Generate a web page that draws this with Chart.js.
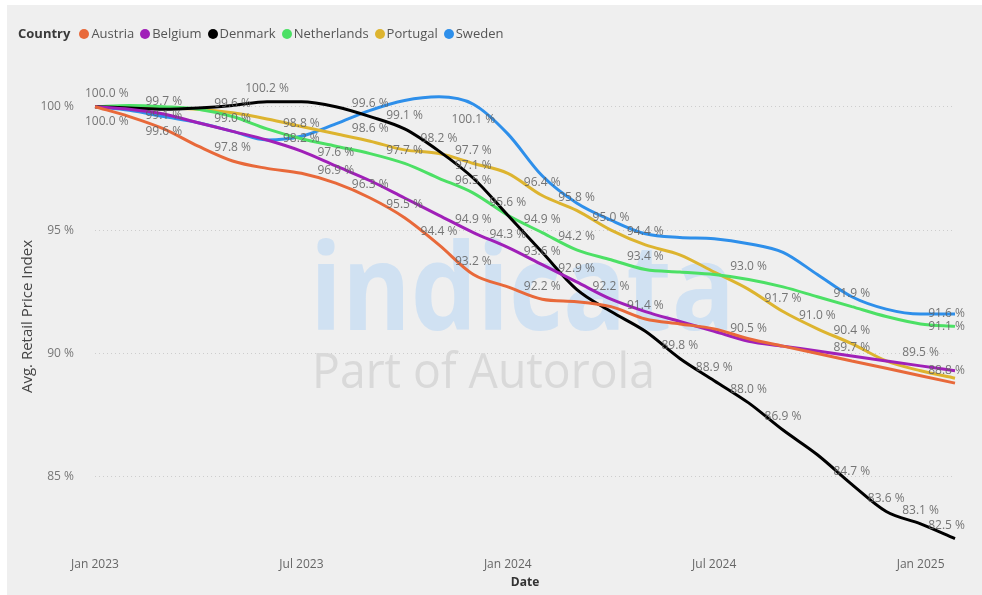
<!DOCTYPE html>
<html>
<head>
<meta charset="utf-8">
<script src="https://cdn.jsdelivr.net/npm/chart.js@4.4.1/dist/chart.umd.min.js"></script>
<style>
  html, body { margin: 0; padding: 0; background: #ffffff; }
  #panel { position: absolute; left: 7px; top: 5px; width: 975px; height: 590px; background: #efefef; }
  #chart { position: absolute; left: 0; top: 0; }
  #legend { position: absolute; left: 11px; top: 19px; font-family: "Open Sans", sans-serif; font-size: 13px; color: #555; white-space: nowrap; }
  #legend .title { font-weight: bold; color: #3a3a3a; margin-right: 9px; }
  #legend .item { margin-right: 6px; }
  #legend .dot { display: inline-block; width: 10px; height: 10px; border-radius: 50%; margin-right: 2px; vertical-align: -1px; }
</style>
</head>
<body>
<div id="panel">
  <canvas id="chart" width="975" height="590"></canvas>
  <div id="legend"></div>
</div>
<script>
// Months on the x axis
const months = ['Jan 2023', 'Feb 2023', 'Mar 2023', 'Apr 2023', 'May 2023', 'Jun 2023',
  'Jul 2023', 'Aug 2023', 'Sep 2023', 'Oct 2023', 'Nov 2023', 'Dec 2023',
  'Jan 2024', 'Feb 2024', 'Mar 2024', 'Apr 2024', 'May 2024', 'Jun 2024',
  'Jul 2024', 'Aug 2024', 'Sep 2024', 'Oct 2024', 'Nov 2024', 'Dec 2024',
  'Jan 2025', 'Feb 2025'];

// Avg. retail price index per country (%)
const austria = [100.0, 99.6, 99.1, 98.4, 97.8, 97.5, 97.3, 96.9, 96.3, 95.5, 94.4, 93.2, 92.7, 92.2, 92.1, 91.9, 91.4, 91.2, 91.0, 90.6, 90.3, 90.0, 89.7, 89.4, 89.1, 88.8];
const belgium = [100.0, 99.9, 99.7, 99.35, 99.0, 98.65, 98.2, 97.6, 97.0, 96.3, 95.6, 94.9, 94.3, 93.6, 92.9, 92.2, 91.7, 91.3, 90.9, 90.5, 90.3, 90.1, 89.9, 89.7, 89.5, 89.3];
const denmark = [100.0, 99.95, 99.9, 99.95, 100.05, 100.2, 100.2, 100.0, 99.6, 99.1, 98.2, 97.1, 95.6, 94.1, 92.6, 91.7, 90.9, 89.8, 88.9, 88.0, 86.9, 85.9, 84.7, 83.6, 83.1, 82.5];
const netherlands = [100.0, 100.05, 100.0, 99.9, 99.6, 99.1, 98.7, 98.4, 98.1, 97.7, 97.1, 96.5, 95.6, 94.9, 94.2, 93.8, 93.4, 93.3, 93.2, 93.0, 92.7, 92.3, 91.9, 91.5, 91.2, 91.1];
const portugal = [100.0, 100.0, 99.95, 99.9, 99.75, 99.5, 99.2, 98.9, 98.6, 98.25, 98.1, 97.7, 97.3, 96.4, 95.8, 95.0, 94.4, 94.0, 93.3, 92.6, 91.7, 91.0, 90.4, 89.7, 89.3, 89.0];
const sweden = [100.0, 99.85, 99.6, 99.35, 99.0, 98.65, 98.8, 99.3, 99.85, 100.25, 100.4, 100.1, 98.9, 97.2, 96.1, 95.4, 94.85, 94.7, 94.65, 94.45, 94.1, 93.2, 92.3, 91.8, 91.6, 91.6];

const yTicks = [85, 90, 95, 100];

const series = [
  { name: 'Austria', data: austria, color: '#E8693A' },
  { name: 'Belgium', data: belgium, color: '#A020B8' },
  { name: 'Denmark', data: denmark, color: '#000000' },
  { name: 'Netherlands', data: netherlands, color: '#4CE065' },
  { name: 'Portugal', data: portugal, color: '#DDB42F' },
  { name: 'Sweden', data: sweden, color: '#2E8FEA' }
];

// which points carry a value label, and on which side of the line
const labelPoints = {
  Austria: [[0, 'below'], [2, 'above'], [4, 'above'], [7, 'above'], [8, 'above'], [9, 'above'], [10, 'above'], [11, 'above'], [13, 'above'], [16, 'above'], [22, 'above'], [25, 'above']],
  Belgium: [[2, 'above'], [4, 'above'], [6, 'above'], [7, 'above'], [11, 'above'], [12, 'above'], [13, 'above'], [14, 'above'], [15, 'above'], [19, 'above'], [24, 'above']],
  Denmark: [[0, 'above'], [5, 'above'], [8, 'above'], [9, 'above'], [10, 'above'], [11, 'above'], [12, 'above'], [17, 'above'], [18, 'above'], [19, 'above'], [20, 'above'], [22, 'above'], [23, 'above'], [24, 'above'], [25, 'above']],
  Netherlands: [[4, 'above'], [9, 'above'], [11, 'above'], [13, 'above'], [14, 'above'], [16, 'above'], [19, 'above'], [22, 'above'], [25, 'center']],
  Portugal: [[8, 'above'], [11, 'above'], [13, 'above'], [14, 'above'], [15, 'above'], [16, 'above'], [20, 'above'], [21, 'above'], [22, 'above']],
  Sweden: [[2, 'below'], [6, 'above'], [11, 'below'], [25, 'center']]
};

// Faint logo behind the lines
const watermark = {
  id: 'watermark',
  beforeDatasetsDraw(chart) {
    const ctx = chart.ctx;
    ctx.save();
    ctx.textBaseline = 'alphabetic';
    ctx.textAlign = 'left';
    ctx.font = 'bold 120px "Open Sans"';
    ctx.fillStyle = '#d0e1f2';
    let w = ctx.measureText('indicata').width;
    ctx.translate(303, 325);
    ctx.scale(425 / w, 1);
    ctx.fillText('indicata', 0, 0);
    ctx.restore();

    ctx.save();
    ctx.font = '50px "Open Sans"';
    ctx.fillStyle = '#d9d9d9';
    w = ctx.measureText('Part of Autorola').width;
    ctx.translate(305, 383);
    ctx.scale(343 / w, 1);
    ctx.fillText('Part of Autorola', 0, 0);
    ctx.restore();
  }
};

// Value labels next to selected points
const valueLabels = {
  id: 'valueLabels',
  afterDatasetsDraw(chart) {
    const ctx = chart.ctx;
    const area = chart.chartArea;
    ctx.save();
    ctx.font = '12px "Open Sans"';
    ctx.fillStyle = 'rgba(95,95,95,0.85)';
    ctx.textAlign = 'center';
    ctx.textBaseline = 'middle';
    chart.data.datasets.forEach((ds, di) => {
      const meta = chart.getDatasetMeta(di);
      (labelPoints[ds.label] || []).forEach(([i, pos]) => {
        const pt = meta.data[i];
        const text = ds.data[i].toFixed(1) + ' %';
        const half = ctx.measureText(text).width / 2;
        const dy = pos === 'above' ? -13 : (pos === 'below' ? 15 : 0);
        let x = pt.x;
        x = Math.max(x, area.left - 10 + half);
        x = Math.min(x, area.right + 10 - half);
        ctx.fillText(text, x, pt.y + dy);
      });
    });
    ctx.restore();
  }
};

// legend built from the series
const legend = document.getElementById('legend');
legend.innerHTML = '<span class="title">Country</span>' + series.map(s =>
  '<span class="item"><span class="dot" style="background:' + s.color + '"></span>' + s.name + '</span>').join('');

const ctx = document.getElementById('chart').getContext('2d');
new Chart(ctx, {
  type: 'line',
  data: {
    labels: months,
    datasets: series.map(s => ({
      label: s.name,
      data: s.data,
      borderColor: s.color,
      backgroundColor: s.color,
      borderWidth: 3,
      pointRadius: 0,
      cubicInterpolationMode: 'monotone',
      fill: false
    }))
  },
  options: {
    responsive: false,
    animation: false,
    layout: { padding: { left: 0, top: 77, right: 27, bottom: 0 } },
    plugins: {
      legend: { display: false },
      tooltip: { enabled: false }
    },
    scales: {
      x: {
        type: 'category',
        offset: false,
        grid: { display: false, drawTicks: false },
        border: { display: false },
        ticks: {
          autoSkip: false,
          maxRotation: 0,
          padding: 6,
          color: '#666',
          font: { family: 'Open Sans', size: 12 },
          callback: function (val) {
            const l = this.getLabelForValue(val);
            return (l.startsWith('Jan') || l.startsWith('Jul')) ? l : '';
          }
        },
        title: {
          display: true,
          text: 'Date',
          color: '#333',
          font: { family: 'Open Sans', size: 12, weight: 'bold' },
          padding: { top: 0, bottom: 5 }
        },
        afterFit: s => { s.height = 44; }
      },
      y: {
        min: 82,
        max: 101,
        afterBuildTicks: s => { s.ticks = yTicks.map(v => ({ value: v })); },
        grid: { color: '#cdcdcd', drawTicks: false, lineWidth: 1 },
        border: { display: false, dash: [1, 3] },
        ticks: {
          padding: 21,
          color: '#777',
          font: { family: 'Open Sans', size: 12 },
          callback: v => v + ' %'
        },
        title: {
          display: true,
          text: 'Avg. Retail Price Index',
          color: '#444',
          font: { family: 'Open Sans', size: 15 },
          padding: { top: 12, bottom: 0 }
        },
        afterFit: s => { s.width = 88; }
      }
    }
  },
  plugins: [watermark, valueLabels]
});
</script>
</body>
</html>
